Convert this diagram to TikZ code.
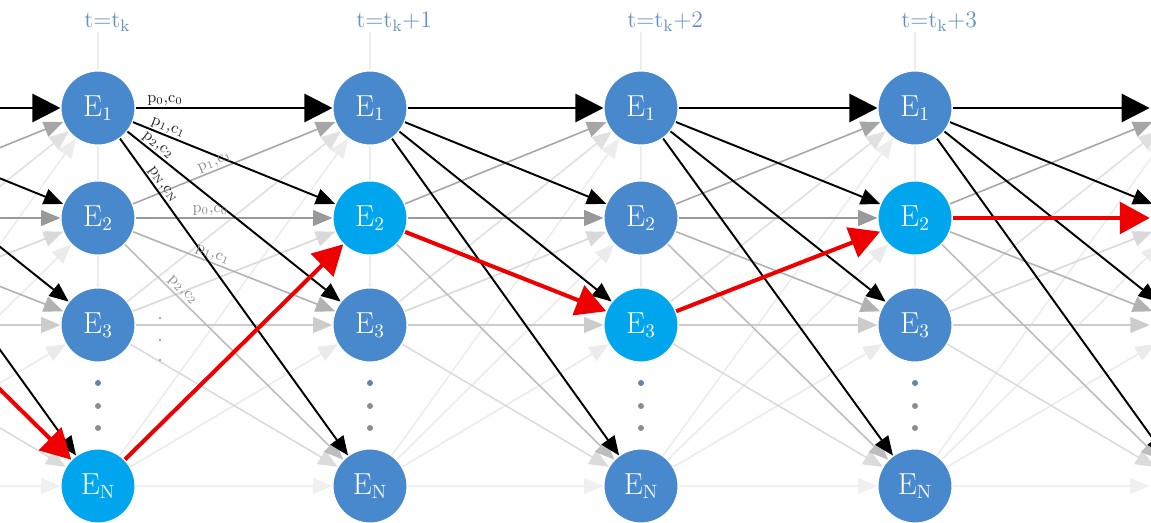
\documentclass[tikz,border=0pt]{standalone}
\usetikzlibrary{arrows.meta}
\definecolor{stateblue}{RGB}{72,136,205}
\definecolor{pathblue}{RGB}{0,166,237}
\definecolor{timeblue}{RGB}{100,145,195}
\definecolor{pathred}{RGB}{238,0,0}
\pgfdeclarelayer{paper}
\pgfdeclarelayer{links}
\pgfsetlayers{paper,links,main}
\tikzset{
  state/.style={circle, fill=stateblue, draw=white, line width=0.6pt,
    minimum size=1.48cm, inner sep=0pt, text=white,
    font=\fontsize{16}{18}\selectfont},
  ghost/.style={circle, minimum size=1.48cm, inner sep=0pt},
  timelabel/.style={text=timeblue, font=\fontsize{13.5}{15}\selectfont, inner sep=0pt},
  heavy/.style={draw=black, line width=1.6pt, -{Triangle[length=16pt,width=16pt]}},
  dark/.style={draw=black, line width=1.1pt, -{Triangle[length=11pt,width=9pt]}},
  soft/.style={draw=#1, line width=0.9pt, -{Triangle[length=11pt,width=9pt]}},
  redpath/.style={draw=pathred, line width=2.3pt, -{Triangle[length=17pt,width=18pt]}},
  guide/.style={draw=black!7, line width=0.7pt},
  prob/.style={font=\fontsize{9}{10}\selectfont, inner sep=1pt, sloped, above},
  probdark/.style={prob, text=black!85},
  problight/.style={prob, text=black!45},
}
\begin{document}
\begin{tikzpicture}[x=0.02cm,y=-0.02cm]
\useasboundingbox (0,0) rectangle (1151,523);
\begin{pgfonlayer}{paper}
  \fill[white] (0,0) rectangle (1151,523);
\end{pgfonlayer}

% states just outside the frame (before t_k and after t_k+3)
\foreach \n/\x in {L/-174,R/1187}{
  \node[ghost] (c\n-1) at (\x,108) {};
  \node[ghost] (c\n-2) at (\x,218) {};
  \node[ghost] (c\n-3) at (\x,325) {};
  \node[ghost] (c\n-N) at (\x,486) {};
}

% the four time steps; fills mark the highlighted trajectory
\foreach \n/\x/\fa/\fb/\fc/\fd/\lab in {
    0/98/stateblue/stateblue/stateblue/pathblue/{t=t\textsubscript{k}},
    1/370/stateblue/pathblue/stateblue/stateblue/{t=t\textsubscript{k}+1},
    2/641/stateblue/stateblue/pathblue/stateblue/{t=t\textsubscript{k}+2},
    3/915/stateblue/pathblue/stateblue/stateblue/{t=t\textsubscript{k}+3}}{
  \node[timelabel, anchor=west] (t\n) at (\x-14,22) {\lab};
  \node[state, fill=\fa] (c\n-1) at (\x,108) {$\mathrm{E}_{1}$};
  \node[state, fill=\fb] (c\n-2) at (\x,218) {$\mathrm{E}_{2}$};
  \node[state, fill=\fc] (c\n-3) at (\x,325) {$\mathrm{E}_{3}$};
  \node[state, fill=\fd] (c\n-N) at (\x,486) {$\mathrm{E}_{\mathrm{N}}$};
  \fill[stateblue!60!gray] (\x,383) circle (3);
  \fill[black!45] (\x,406) circle (3);
  \fill[black!45] (\x,428) circle (3);
}

\begin{pgfonlayer}{links}
  \clip (0,0) rectangle (1151,523);
  \foreach \n in {0,1,2,3}{
    \draw[guide] (t\n.south -| c\n-1) -- (c\n-1);
    \draw[guide] (c\n-1) -- (c\n-2);
    \draw[guide] (c\n-2) -- (c\n-3);
  }
  \foreach \a/\b in {L/0,0/1,1/2,2/3,3/R}{
    \draw[soft=black!6]  (c\a-N) -- (c\b-N);
    \draw[soft=black!8]  (c\a-N) -- (c\b-3);
    \draw[soft=black!8]  (c\a-N) -- (c\b-2);
    \draw[soft=black!7]  (c\a-N) -- (c\b-1);
    \draw[soft=black!14] (c\a-3) -- (c\b-N);
    \draw[soft=black!12] (c\a-3) -- (c\b-1);
    \draw[soft=black!15] (c\a-3) -- (c\b-2);
    \draw[soft=black!20] (c\a-3) -- (c\b-3);
    \draw[soft=black!26] (c\a-2) -- (c\b-N);
    \draw[soft=black!30] (c\a-2) -- (c\b-3);
    \draw[soft=black!35] (c\a-2) -- (c\b-1);
    \draw[soft=black!40] (c\a-2) -- (c\b-2);
    \draw[dark]  (c\a-1) -- (c\b-N);
    \draw[dark]  (c\a-1) -- (c\b-3);
    \draw[dark]  (c\a-1) -- (c\b-2);
    \draw[heavy] (c\a-1) -- (c\b-1);
  }
  % chosen trajectory
  \draw[redpath] (cL-2) -- (c0-N);
  \draw[redpath] (c0-N) -- (c1-2);
  \draw[redpath] (c1-2) -- (c2-3);
  \draw[redpath] (c2-3) -- (c3-2);
  \draw[redpath] (c3-2) -- (cR-2);
\end{pgfonlayer}

% transition probabilities and costs
\path (c0-1) -- (c1-1) node[probdark, pos=0.15] {p\textsubscript{0},c\textsubscript{0}};
\path (c0-1) -- (c1-2) node[probdark, pos=0.16] {p\textsubscript{1},c\textsubscript{1}};
\path (c0-1) -- (c1-3) node[probdark, pos=0.12] {p\textsubscript{2},c\textsubscript{2}};
\path (c0-1) -- (c1-N) node[probdark, pos=0.16] {p\textsubscript{N},c\textsubscript{N}};
\path (c0-2) -- (c1-1) node[problight, pos=0.42] {p\textsubscript{1},c\textsubscript{1}};
\path (c0-2) -- (c1-2) node[problight, pos=0.38] {p\textsubscript{0},c\textsubscript{0}};
\path (c0-2) -- (c1-3) node[problight, pos=0.38] {p\textsubscript{1},c\textsubscript{1}};
\path (c0-2) -- (c1-N) node[problight, pos=0.24] {p\textsubscript{2},c\textsubscript{2}};
\foreach \y in {318,340,360}{
  \fill[black!35] (160,\y) circle (1.4);
}
\end{tikzpicture}
\end{document}
